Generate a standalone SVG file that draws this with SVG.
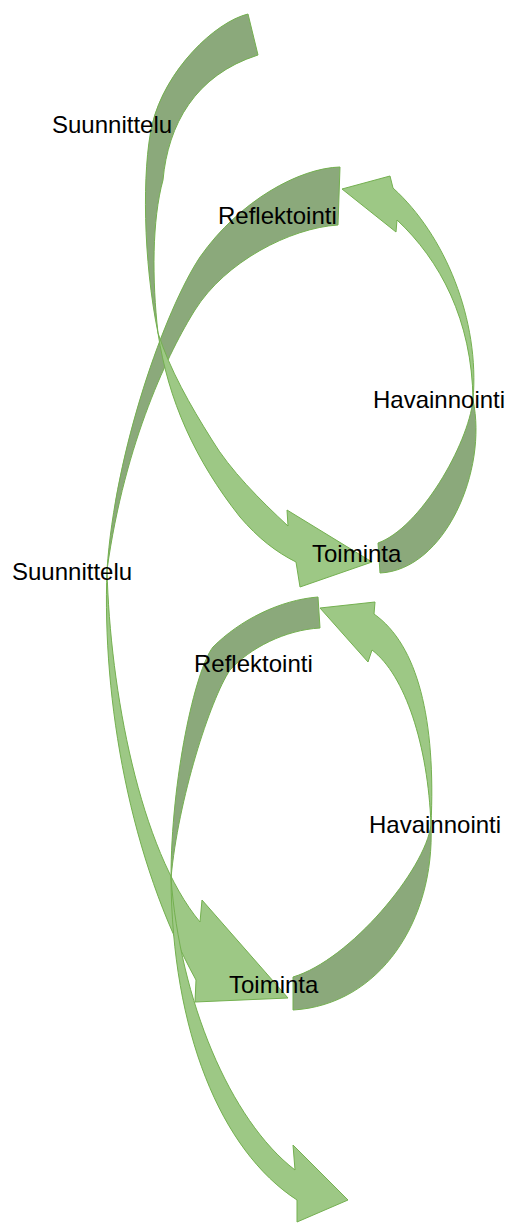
<svg xmlns="http://www.w3.org/2000/svg" width="510" height="1223" viewBox="0 0 510 1223">
<style>
.lt{fill:#9dc885;stroke:#74b050;stroke-width:1;stroke-linejoin:round}
.dk{fill:#8ba97b;stroke:#74b050;stroke-width:1;stroke-linejoin:round}
.lbl{font-family:"Liberation Sans",Arial,sans-serif;font-size:24px;fill:#000}
</style>
<rect width="510" height="1223" fill="#fff"/>
<g id="connectors">
  <g id="arrow-b">
    <path class="dk" d="M340,167 C300,168 240,200 200,257 C165,310 115,450 107,570 C125,440 170,350 195,310 C225,262 290,228 338,225 Z"/>
    <path class="lt" d="M107,570 C102,700 130,860 196,980 L195,1002 L288,998 L202,900 L200,922 C140,850 110,690 107,570 Z"/>
  </g>
  <g id="arrow-a">
    <path class="dk" d="M248,14 C215,22 165,70 152,125 C142,170 143,260 158,333 C152,280 152,220 163,180 C168,125 195,75 258,55 Z"/>
    <path class="lt" d="M158,333 C168,400 195,460 240,517 C258,538 276,552 296,562 L300,587 L372,562 L287,510 L288,526 C260,500 230,470 212,440 C190,405 170,370 158,333 Z"/>
  </g>
  <g id="arrow-c">
    <path class="dk" d="M318,597 C280,600 240,620 213,647 C195,670 171,780 171,878 C178,800 210,700 230,670 C250,648 285,630 320,628 Z"/>
    <path class="lt" d="M171,878 C172,1030 220,1150 297,1200 L297,1222 L348,1200 L293,1145 L295,1170 C230,1120 180,1000 171,878 Z"/>
  </g>
  <g id="arrow-h1">
    <path class="dk" d="M380,573 L378,543 C420,528 468,445 473,400 C488,470 445,570 380,573 Z"/>
    <path class="lt" d="M473,400 C480,320 445,235 393,188 L390,176 L342,189 L396,232 L397,220 C440,260 472,320 473,400 Z"/>
  </g>
  <g id="arrow-h2">
    <path class="dk" d="M293,1010 L293,977 C350,960 425,870 431,825 C435,920 380,1005 293,1010 Z"/>
    <path class="lt" d="M431,825 C436,720 418,645 374,614 L375,602 L320,608 L368,662 L372,650 C405,675 428,745 431,825 Z"/>
  </g>
</g>
<g id="label-suunnittelu-1"><text class="lbl" x="52" y="133">Suunnittelu</text></g>
<g id="label-reflektointi-1"><text class="lbl" x="218" y="224">Reflektointi</text></g>
<g id="label-havainnointi-1"><text class="lbl" x="373" y="408">Havainnointi</text></g>
<g id="label-toiminta-1"><text class="lbl" x="312" y="562">Toiminta</text></g>
<g id="label-suunnittelu-2"><text class="lbl" x="12" y="580">Suunnittelu</text></g>
<g id="label-reflektointi-2"><text class="lbl" x="194" y="672">Reflektointi</text></g>
<g id="label-havainnointi-2"><text class="lbl" x="369" y="833">Havainnointi</text></g>
<g id="label-toiminta-2"><text class="lbl" x="229" y="993">Toiminta</text></g>
</svg>
